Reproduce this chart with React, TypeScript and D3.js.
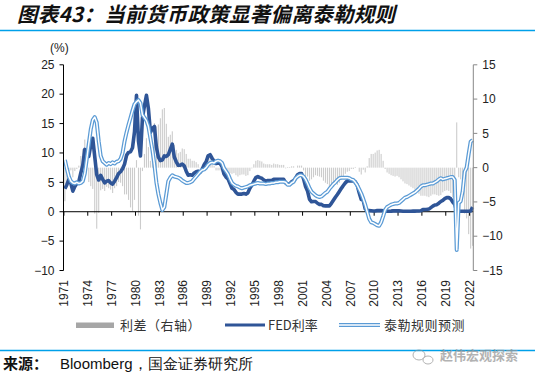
import React from 'react';
import * as d3 from 'd3';

const startYear = 1971; // first quarter of the series (quarterly data)

// FED effective rate, quarterly (%)
const fedRate = [
  3.9, 4.6, 5.5, 4.8, // 1971
  3.5, 4.3, 4.8, 5.1, // 1972
  6.6, 7.9, 10.6, 10.0, // 1973
  9.4, 11.3, 12.5, 9.4, // 1974
  6.3, 5.4, 6.2, 5.5, // 1975
  4.9, 5.2, 5.3, 4.9, // 1976
  4.7, 5.2, 5.8, 6.5, // 1977
  6.8, 7.3, 8.1, 9.6, // 1978
  10.1, 10.2, 10.9, 13.6, // 1979
  19.8, 12.0, 9.5, 16.0, // 1980
  18.0, 19.8, 17.5, 13.5, // 1981
  14.2, 14.5, 11.0, 9.3, // 1982
  8.7, 8.8, 9.5, 9.4, // 1983
  9.7, 10.6, 11.5, 9.3, // 1984
  8.5, 7.9, 7.9, 8.1, // 1985
  7.8, 6.9, 6.2, 6.3, // 1986
  6.2, 6.6, 6.8, 6.9, // 1987
  6.7, 7.2, 8.0, 8.5, // 1988
  9.5, 9.7, 9.1, 8.6, // 1989
  8.2, 8.3, 8.2, 7.7, // 1990
  6.4, 5.9, 5.6, 4.8, // 1991
  4.0, 3.8, 3.3, 3.0, // 1992
  3.0, 3.0, 3.1, 3.0, // 1993
  3.2, 4.0, 4.5, 5.2, // 1994
  5.8, 6.0, 5.8, 5.7, // 1995
  5.4, 5.2, 5.3, 5.3, // 1996
  5.3, 5.5, 5.5, 5.5, // 1997
  5.5, 5.5, 5.5, 4.9, // 1998
  4.7, 4.7, 5.1, 5.3, // 1999
  5.7, 6.3, 6.5, 6.5, // 2000
  5.6, 4.3, 3.5, 2.1, // 2001
  1.7, 1.75, 1.74, 1.44, // 2002
  1.25, 1.25, 1.02, 1.0, // 2003
  1.0, 1.0, 1.43, 1.95, // 2004
  2.47, 2.94, 3.46, 3.98, // 2005
  4.46, 4.91, 5.25, 5.25, // 2006
  5.26, 5.25, 5.07, 4.5, // 2007
  3.18, 2.09, 1.94, 0.51, // 2008
  0.18, 0.18, 0.16, 0.12, // 2009
  0.13, 0.19, 0.19, 0.19, // 2010
  0.16, 0.09, 0.08, 0.07, // 2011
  0.1, 0.15, 0.14, 0.16, // 2012
  0.14, 0.12, 0.08, 0.09, // 2013
  0.07, 0.09, 0.09, 0.1, // 2014
  0.11, 0.12, 0.13, 0.16, // 2015
  0.36, 0.37, 0.4, 0.45, // 2016
  0.7, 0.95, 1.15, 1.2, // 2017
  1.45, 1.74, 1.92, 2.22, // 2018
  2.4, 2.4, 2.19, 1.65, // 2019
  1.26, 0.06, 0.09, 0.09, // 2020
  0.08, 0.07, 0.09, 0.08, // 2021
  0.12, 0.77, // 2022
];

// Taylor rule prediction, quarterly (%)
const taylorRule = [
  8.8, 7.3, 6.0, 5.2, // 1971
  4.9, 4.8, 5.0, 4.8, // 1972
  4.9, 5.2, 6.5, 9.0, // 1973
  11.5, 14.0, 15.6, 16.1, // 1974
  15.2, 12.0, 9.5, 8.6, // 1975
  8.3, 8.0, 8.3, 8.1, // 1976
  8.4, 8.2, 8.5, 8.6, // 1977
  9.0, 10.0, 12.0, 13.5, // 1978
  14.8, 16.0, 17.2, 18.3, // 1979
  18.7, 19.0, 18.5, 16.5, // 1980
  16.0, 15.5, 14.5, 12.5, // 1981
  10.5, 8.0, 5.0, 3.0, // 1982
  1.5, 0.3, 0.8, 3.0, // 1983
  5.2, 5.8, 6.2, 6.0, // 1984
  5.9, 5.8, 5.6, 5.3, // 1985
  5.1, 4.9, 4.9, 5.0, // 1986
  5.2, 5.6, 6.0, 6.4, // 1987
  6.8, 7.1, 7.2, 7.5, // 1988
  8.0, 8.3, 8.4, 8.3, // 1989
  8.6, 8.7, 8.6, 8.3, // 1990
  7.4, 6.9, 6.4, 5.6, // 1991
  4.9, 4.6, 4.4, 4.3, // 1992
  4.1, 4.0, 4.1, 4.2, // 1993
  4.3, 4.5, 4.6, 4.7, // 1994
  4.8, 4.9, 4.8, 4.8, // 1995
  4.8, 4.7, 4.8, 4.8, // 1996
  4.9, 4.9, 5.0, 5.0, // 1997
  5.1, 5.1, 5.1, 5.0, // 1998
  4.6, 4.6, 4.9, 5.1, // 1999
  5.7, 6.0, 6.2, 6.2, // 2000
  6.0, 5.5, 4.8, 4.0, // 2001
  3.4, 3.1, 2.8, 2.6, // 2002
  2.5, 2.6, 2.9, 3.2, // 2003
  3.4, 3.9, 4.3, 4.7, // 2004
  5.0, 5.4, 5.7, 5.8, // 2005
  5.8, 5.8, 5.8, 5.7, // 2006
  5.5, 5.4, 5.0, 4.5, // 2007
  3.8, 3.1, 2.2, 1.2, // 2008
  0.0, -1.2, -1.8, -1.9, // 2009
  -2.1, -2.3, -2.4, -1.8, // 2010
  -0.8, 0.3, 0.8, 1.0, // 2011
  1.2, 1.3, 1.4, 1.4, // 2012
  1.5, 1.8, 2.1, 2.4, // 2013
  2.5, 2.7, 2.9, 3.1, // 2014
  3.3, 3.6, 3.9, 4.3, // 2015
  4.5, 4.5, 4.6, 4.7, // 2016
  4.8, 4.8, 5.0, 5.2, // 2017
  5.5, 5.7, 5.5, 5.6, // 2018
  5.7, 5.8, 5.9, 5.9, // 2019
  5.4, -6.5, 1.5, 1.8, // 2020
  3.5, 6.8, 7.5, 9.8, // 2021
  11.9, 12.2, // 2022
];

// Spread (right axis), quarterly (pp)
const spread = [
  -4.9, -2.7, -0.5, -0.4, // 1971
  -1.4, -0.5, -0.2, 0.3, // 1972
  1.7, 2.7, 4.1, 1.0, // 1973
  -2.1, -2.7, -3.1, -6.7, // 1974
  -8.9, -6.6, -3.3, -3.1, // 1975
  -3.4, -2.8, -3.0, -3.2, // 1976
  -3.7, -3.0, -2.7, -2.1, // 1977
  -2.2, -2.7, -3.9, -3.9, // 1978
  -4.7, -5.8, -6.3, -4.7, // 1979
  1.1, -7.0, -9.0, -0.5, // 1980
  2.0, 4.3, 3.0, 1.0, // 1981
  3.7, 6.5, 6.0, 6.3, // 1982
  7.2, 8.5, 8.7, 6.4, // 1983
  4.5, 4.8, 5.3, 3.3, // 1984
  2.6, 2.1, 2.3, 2.8, // 1985
  2.7, 2.0, 1.3, 1.3, // 1986
  1.0, 1.0, 0.8, 0.5, // 1987
  -0.1, 0.1, 0.8, 1.0, // 1988
  1.5, 1.4, 0.7, 0.3, // 1989
  -0.4, -0.4, -0.4, -0.6, // 1990
  -1.0, -1.0, -0.8, -0.8, // 1991
  -0.9, -0.8, -1.1, -1.3, // 1992
  -1.1, -1.0, -1.0, -1.2, // 1993
  -1.1, -0.5, -0.1, 0.5, // 1994
  1.0, 1.1, 1.0, 0.9, // 1995
  0.6, 0.5, 0.5, 0.5, // 1996
  0.4, 0.6, 0.5, 0.5, // 1997
  0.4, 0.4, 0.4, -0.1, // 1998
  0.1, 0.1, 0.2, 0.2, // 1999
  0.0, 0.3, 0.3, 0.3, // 2000
  -0.4, -1.2, -1.3, -1.9, // 2001
  -1.7, -1.4, -1.1, -1.2, // 2002
  -1.3, -1.4, -1.9, -2.2, // 2003
  -2.4, -2.9, -2.9, -2.8, // 2004
  -2.5, -2.5, -2.2, -1.8, // 2005
  -1.3, -0.9, -0.6, -0.5, // 2006
  -0.2, -0.2, 0.1, 0.0, // 2007
  -0.6, -1.0, -0.3, -0.7, // 2008
  0.2, 1.4, 2.0, 2.0, // 2009
  2.2, 2.5, 2.6, 2.0, // 2010
  1.0, -0.2, -0.7, -0.9, // 2011
  -1.1, -1.2, -1.3, -1.2, // 2012
  -1.4, -1.7, -2.0, -2.3, // 2013
  -2.4, -2.6, -2.8, -3.0, // 2014
  -3.2, -3.5, -3.8, -4.1, // 2015
  -4.1, -4.1, -4.2, -4.3, // 2016
  -4.1, -3.9, -3.9, -4.0, // 2017
  -4.1, -4.0, -3.6, -3.4, // 2018
  -3.3, -3.4, -3.7, -4.3, // 2019
  -4.1, 6.6, -1.4, -1.7, // 2020
  -3.4, -6.7, -7.4, -9.7, // 2021
  -11.8, -11.4, // 2022
];

const leftTicks = [-10, -5, 0, 5, 10, 15, 20, 25];
const rightTicks = [-15, -10, -5, 0, 5, 10, 15];
const yearTicks = [1971, 1974, 1977, 1980, 1983, 1986, 1989, 1992, 1995, 1998, 2001, 2004, 2007, 2010, 2013, 2016, 2019, 2022];
const legendLabels = ['利差（右轴）', 'FED利率', '泰勒规则预测'];
const titleText = '图表43：当前货币政策显著偏离泰勒规则';
const sourceLabel = '来源：';
const sourceText = 'Bloomberg，国金证券研究所';
const watermark = '赵伟宏观探索';

const NUM_FONT = '"Liberation Sans", Arial, sans-serif';
const CJK_FONT = '"Noto Sans CJK SC", "Liberation Sans", sans-serif';
const FED_COLOR = '#2f5597';
const TAYLOR_COLOR = '#5b9bd5';
const BAR_COLOR = '#cccccc';
const CYAN = '#00a0e9';

export default function App() {
  const x = d3.scaleLinear().domain([1970.95, 2022.46]).range([63.5, 473.3]);
  const yL = d3.scaleLinear().domain([-10, 25]).range([270.5, 64.8]);
  const yR = d3.scaleLinear().domain([-15, 15]).range([270.5, 64.8]);
  const tq = (i: number) => startYear + i * 0.25 + 0.125;

  const line = d3
    .line<number>()
    .x((_, i) => x(tq(i)))
    .y((d) => yL(d));

  const fedPath = line(fedRate) || '';
  const taylorPath = line(taylorRule) || '';

  const x0 = x.range()[0];
  const x1 = x.range()[1];
  const yTop = yL.range()[1];
  const yBot = yL.range()[0];

  return (
    <svg
      width={535}
      height={380}
      style={{ position: 'absolute', left: 0, top: 0, background: '#fff' }}
    >
      <rect x={0} y={0} width={535} height={380} fill="#fff" />
      {/* Title */}
      <text
        x={17}
        y={22}
        fontFamily={CJK_FONT}
        fontSize={20.5}
        fontWeight="bold"
        fontStyle="italic"
        fill="#111"
        letterSpacing={0.3}
      >
        {titleText}
      </text>
      <line x1={0} x2={535} y1={30.5} y2={30.5} stroke={CYAN} strokeWidth={1.3} />
      <text x={50} y={52} fontFamily={NUM_FONT} fontSize={12} fill="#222">
        (%)
      </text>

      {/* spread bars */}
      <g>
        {spread.map((s, i) => (
          <rect
            key={i}
            x={x(tq(i)) - 0.55}
            width={1.1}
            y={Math.min(yR(s), yR(0))}
            height={Math.abs(yR(s) - yR(0))}
            fill={BAR_COLOR}
          />
        ))}
      </g>

      {/* x axis at 0 */}
      <line x1={x0} x2={x1} y1={yL(0)} y2={yL(0)} stroke="#000" strokeWidth={1} />
      {yearTicks.map((yr) => (
        <line key={yr} x1={x(yr)} x2={x(yr)} y1={yL(0)} y2={yL(0) + 4} stroke="#000" strokeWidth={1} />
      ))}

      {/* FED line */}
      <path d={fedPath} fill="none" stroke={FED_COLOR} strokeWidth={3.6} strokeLinejoin="round" />
      {/* Taylor double line */}
      <path d={taylorPath} fill="none" stroke={TAYLOR_COLOR} strokeWidth={4} strokeLinejoin="round" />
      <path d={taylorPath} fill="none" stroke="#fff" strokeWidth={1.5} strokeLinejoin="round" />

      {/* left axis */}
      <line x1={x0} x2={x0} y1={yTop} y2={yBot} stroke="#000" strokeWidth={1} />
      {leftTicks.map((v) => (
        <g key={v}>
          <line x1={x0 - 4} x2={x0} y1={yL(v)} y2={yL(v)} stroke="#000" strokeWidth={1} />
          <text
            x={x0 - 9}
            y={yL(v)}
            dy="0.35em"
            textAnchor="end"
            fontFamily={NUM_FONT}
            fontSize={12}
            fill="#222"
          >
            {v < 0 ? '\u2212' + Math.abs(v) : v}
          </text>
        </g>
      ))}

      {/* right axis */}
      <line x1={x1} x2={x1} y1={yTop} y2={yBot} stroke="#888" strokeWidth={1} />
      {rightTicks.map((v) => (
        <g key={v}>
          <line x1={x1} x2={x1 + 4} y1={yR(v)} y2={yR(v)} stroke="#888" strokeWidth={1} />
          <text
            x={x1 + 9}
            y={yR(v)}
            dy="0.35em"
            textAnchor="start"
            fontFamily={NUM_FONT}
            fontSize={12}
            fill="#222"
          >
            {v < 0 ? '\u2212' + Math.abs(v) : v}
          </text>
        </g>
      ))}

      {/* x tick labels */}
      {yearTicks.map((yr) => (
        <text
          key={yr}
          transform={`translate(${x(yr)},${280}) rotate(-90)`}
          dy="0.35em"
          textAnchor="end"
          fontFamily={NUM_FONT}
          fontSize={12}
          fill="#222"
        >
          {yr}
        </text>
      ))}

      {/* legend */}
      <rect x={76} y={322.5} width={38} height={5.5} fill="#a6a6a6" />
      <text x={120} y={329.5} fontFamily={CJK_FONT} fontSize={13} fill="#333" letterSpacing={0.5}>
        {legendLabels[0]}
      </text>
      <line x1={225} x2={265} y1={325} y2={325} stroke={FED_COLOR} strokeWidth={3.2} />
      <text x={268} y={329.5} fontFamily={CJK_FONT} fontSize={13} fill="#333">
        {legendLabels[1]}
      </text>
      <line x1={339} x2={380} y1={325} y2={325} stroke={TAYLOR_COLOR} strokeWidth={4} />
      <line x1={339} x2={380} y1={325} y2={325} stroke="#fff" strokeWidth={1.5} />
      <text x={384} y={329.5} fontFamily={CJK_FONT} fontSize={13} fill="#333" letterSpacing={0.5}>
        {legendLabels[2]}
      </text>

      {/* bottom rule + source */}
      <line x1={0} x2={535} y1={350.5} y2={350.5} stroke={CYAN} strokeWidth={1.3} />
      <text x={3} y={369} fontFamily={CJK_FONT} fontSize={15} fill="#111">
        <tspan fontWeight="bold">{sourceLabel}</tspan>
        <tspan x={60} fontFamily={NUM_FONT}>{sourceText}</tspan>
      </text>

      {/* watermark */}
      <g opacity={0.75}>
        <ellipse cx={419} cy={355} rx={6} ry={5} fill="none" stroke="#999" strokeWidth={1} />
        <ellipse cx={428} cy={360} rx={5} ry={4} fill="none" stroke="#999" strokeWidth={1} />
        <text x={440} y={360} fontFamily={CJK_FONT} fontSize={13} fill="#999" fontWeight="bold">
          {watermark}
        </text>
      </g>
    </svg>
  );
}
